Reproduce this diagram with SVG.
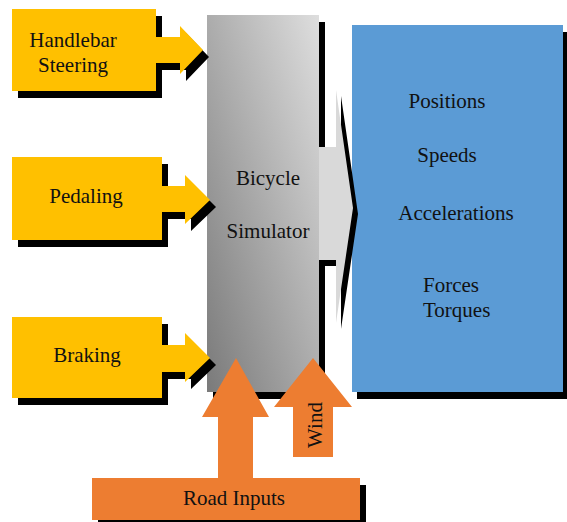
<svg xmlns="http://www.w3.org/2000/svg" width="567" height="522" viewBox="0 0 567 522">
<style>
text{font-family:"Liberation Serif","DejaVu Serif","Noto Serif",serif;font-size:21px;fill:#111;text-anchor:middle}
.sh{fill:#000}
.y{fill:#ffc000}
.o{fill:#ed7d31}
</style>
<defs>
<linearGradient id="g" x1="0" y1="1" x2="1" y2="0">
<stop offset="0" stop-color="#7a7a7a"/>
<stop offset="1" stop-color="#dedede"/>
</linearGradient>
</defs>
<rect width="567" height="522" fill="#fff"/>
<g id="simulator">
<rect class="sh" x="213" y="22" width="112" height="377"/>
<rect x="207" y="15" width="112" height="377" fill="url(#g)"/>
<text x="268" y="185" font-family="Liberation Serif, serif">Bicycle</text>
<text x="268" y="238" font-family="Liberation Serif, serif">Simulator</text>
</g>
<g id="outputs" font-family="Liberation Serif, serif">
<rect class="sh" x="357" y="32" width="211" height="367"/>
<rect x="352" y="25" width="211" height="367" fill="#5b9bd5"/>
<text x="447" y="108">Positions</text>
<text x="447" y="162">Speeds</text>
<text x="456" y="220">Accelerations</text>
<text x="423" y="292" style="text-anchor:start">Forces</text>
<text x="423" y="317" style="text-anchor:start">Torques</text>
</g>
<g id="connectors">
<polygon class="sh" transform="translate(5,6)" points="319,147 336,147 336,90 353,208 336,323 336,260 319,260"/>
<polygon fill="#d9d9d9" points="319,147 336,147 336,90 353,208 336,323 336,260 319,260"/>
</g>
<g id="handlebar">
<polygon class="sh" transform="translate(6,7)" points="12,9 156,9 156,37 180,37 180,26 203,50 180,74 180,63 156,63 156,91 12,91"/>
<polygon class="y" points="12,9 156,9 156,37 180,37 180,26 203,50 180,74 180,63 156,63 156,91 12,91"/>
<text x="73" y="47">Handlebar</text>
<text x="73" y="72">Steering</text>
</g>
<g id="pedaling">
<polygon class="sh" transform="translate(6,7)" points="12,157 162,157 162,186 185,186 185,175 210,200 185,224 185,212 162,212 162,240 12,240"/>
<polygon class="y" points="12,157 162,157 162,186 185,186 185,175 210,200 185,224 185,212 162,212 162,240 12,240"/>
<text x="86" y="203">Pedaling</text>
</g>
<g id="braking">
<polygon class="sh" transform="translate(6,7)" points="12,317 162,317 162,345 185,345 185,333 210,358 185,382 185,372 162,372 162,398 12,398"/>
<polygon class="y" points="12,317 162,317 162,345 185,345 185,333 210,358 185,382 185,372 162,372 162,398 12,398"/>
<text x="87" y="362">Braking</text>
</g>
<g id="wind">
<polygon class="o" points="293,457 333,457 333,407 352,407 313,358 274,407 293,407"/>
<text transform="translate(322,425) rotate(-90)">Wind</text>
</g>
<g id="road">
<rect class="sh" x="98" y="485" width="268" height="42"/>
<polygon class="o" points="92,478 218,478 218,417 202,417 236,358 269,417 253,417 253,478 360,478 360,520 92,520"/>
<text x="234" y="505">Road Inputs</text>
</g>
</svg>
